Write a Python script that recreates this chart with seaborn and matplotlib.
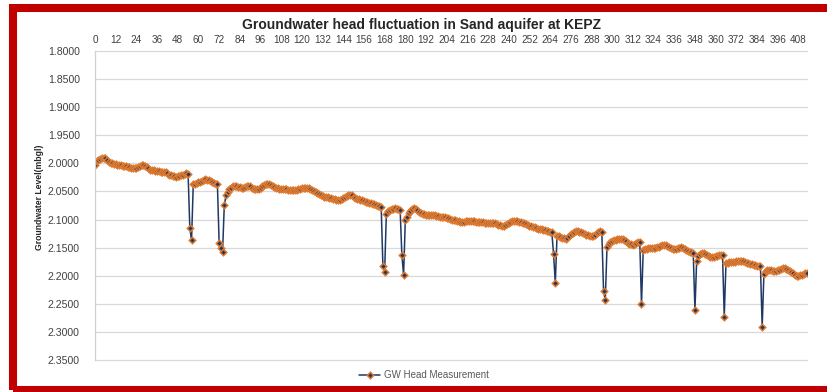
import matplotlib
matplotlib.use("Agg")
import matplotlib.pyplot as plt
import seaborn as sns
import pandas as pd
from matplotlib.patches import Rectangle

# Daily groundwater head readings (m below ground level)
head_mbgl = [
    2.003, 1.996, 1.994, 1.993, 1.991, 1.990, 1.991, 1.994, 1.997, 1.999,
    2.000, 2.001, 2.002, 2.003, 2.003, 2.003, 2.004, 2.004, 2.005, 2.006,
    2.007, 2.008, 2.009, 2.009, 2.008, 2.006, 2.004, 2.003, 2.003, 2.005,
    2.007, 2.009, 2.011, 2.012, 2.012, 2.013, 2.013, 2.014, 2.015, 2.015,
    2.015, 2.016, 2.018, 2.020, 2.021, 2.022, 2.023, 2.024, 2.023, 2.022,
    2.021, 2.020, 2.019, 2.018, 2.019, 2.115, 2.137, 2.037, 2.036, 2.035,
    2.034, 2.033, 2.031, 2.029, 2.028, 2.029, 2.030, 2.032, 2.034, 2.035,
    2.036, 2.037, 2.141, 2.150, 2.157, 2.074, 2.057, 2.051, 2.046, 2.043,
    2.041, 2.040, 2.041, 2.042, 2.042, 2.043, 2.043, 2.042, 2.041, 2.040,
    2.041, 2.043, 2.045, 2.046, 2.046, 2.045, 2.043, 2.041, 2.039, 2.037,
    2.036, 2.037, 2.039, 2.041, 2.042, 2.043, 2.044, 2.045, 2.046, 2.046,
    2.046, 2.046, 2.047, 2.047, 2.047, 2.048, 2.048, 2.047, 2.046, 2.045,
    2.044, 2.043, 2.043, 2.043, 2.044, 2.046, 2.048, 2.050, 2.051, 2.052,
    2.054, 2.056, 2.058, 2.059, 2.059, 2.060, 2.061, 2.062, 2.063, 2.064,
    2.065, 2.065, 2.065, 2.064, 2.062, 2.060, 2.058, 2.057, 2.056, 2.057,
    2.059, 2.061, 2.063, 2.064, 2.065, 2.066, 2.067, 2.068, 2.069, 2.070,
    2.071, 2.072, 2.073, 2.074, 2.075, 2.076, 2.077, 2.183, 2.193, 2.090,
    2.085, 2.083, 2.082, 2.081, 2.080, 2.081, 2.082, 2.083, 2.163, 2.199,
    2.101, 2.095, 2.089, 2.085, 2.081, 2.080, 2.081, 2.083, 2.086, 2.088,
    2.090, 2.091, 2.092, 2.092, 2.092, 2.092, 2.092, 2.092, 2.093, 2.094,
    2.095, 2.095, 2.095, 2.096, 2.097, 2.098, 2.099, 2.100, 2.100, 2.101,
    2.102, 2.103, 2.104, 2.104, 2.104, 2.103, 2.102, 2.102, 2.102, 2.102,
    2.103, 2.104, 2.105, 2.105, 2.105, 2.105, 2.106, 2.106, 2.106, 2.106,
    2.107, 2.107, 2.107, 2.108, 2.109, 2.110, 2.111, 2.111, 2.110, 2.108,
    2.106, 2.104, 2.103, 2.102, 2.102, 2.103, 2.104, 2.105, 2.106, 2.107,
    2.108, 2.110, 2.111, 2.112, 2.113, 2.114, 2.115, 2.116, 2.117, 2.117,
    2.118, 2.119, 2.120, 2.121, 2.122, 2.123, 2.162, 2.213, 2.129, 2.130,
    2.131, 2.132, 2.133, 2.134, 2.132, 2.129, 2.126, 2.124, 2.122, 2.121,
    2.121, 2.122, 2.123, 2.124, 2.125, 2.127, 2.128, 2.129, 2.130, 2.129,
    2.127, 2.124, 2.122, 2.121, 2.123, 2.228, 2.243, 2.148, 2.144, 2.140,
    2.138, 2.137, 2.136, 2.135, 2.134, 2.134, 2.135, 2.137, 2.139, 2.141,
    2.143, 2.144, 2.145, 2.144, 2.142, 2.140, 2.140, 2.251, 2.154, 2.153,
    2.152, 2.151, 2.151, 2.150, 2.150, 2.150, 2.149, 2.148, 2.147, 2.146,
    2.145, 2.146, 2.147, 2.149, 2.151, 2.153, 2.153, 2.152, 2.151, 2.150,
    2.149, 2.150, 2.152, 2.154, 2.156, 2.157, 2.158, 2.159, 2.261, 2.173,
    2.165, 2.162, 2.160, 2.160, 2.161, 2.163, 2.165, 2.166, 2.166, 2.166,
    2.165, 2.164, 2.163, 2.163, 2.163, 2.273, 2.178, 2.177, 2.176, 2.176,
    2.176, 2.175, 2.174, 2.173, 2.173, 2.173, 2.174, 2.175, 2.177, 2.178,
    2.179, 2.180, 2.181, 2.181, 2.182, 2.182, 2.183, 2.291, 2.197, 2.191,
    2.189, 2.189, 2.190, 2.191, 2.191, 2.191, 2.190, 2.189, 2.188, 2.187,
    2.187, 2.188, 2.190, 2.192, 2.194, 2.196, 2.198, 2.200, 2.200, 2.199,
    2.198, 2.197, 2.196, 2.195,
]
day = list(range(len(head_mbgl)))

x_ticks = list(range(0, 409, 12))
y_ticks = [1.80, 1.85, 1.90, 1.95, 2.00, 2.05, 2.10, 2.15, 2.20, 2.25, 2.30, 2.35]

title = "Groundwater head fluctuation in Sand aquifer at KEPZ"
y_label = "Groundwater Level(mbgl)"
series_name = "GW Head Measurement"

LINE = "#1F3864"
ORANGE = "#E07A2E"
RED = "#C00000"

sns.set_theme(style="white")
plt.rcParams["font.family"] = ["Liberation Sans", "DejaVu Sans"]

W, H = 827, 392
fig = plt.figure(figsize=(W / 100, H / 100), dpi=100)
fig.patch.set_facecolor("white")

ax = fig.add_axes([95 / W, 1 - 360 / H, (807 - 95) / W, (360 - 51) / H])

df = pd.DataFrame({"day": day, "head": head_mbgl})
sns.lineplot(
    data=df, x="day", y="head", ax=ax,
    color=LINE, linewidth=1.1,
    marker="D", markersize=3.3,
    markerfacecolor=LINE, markeredgecolor=ORANGE, markeredgewidth=1.1,
    label=series_name,
)

ax.set_xlim(0, len(head_mbgl) - 1)
ax.set_ylim(2.35, 1.80)
ax.set_yticks(y_ticks)
ax.set_yticklabels([f"{v:.4f}" for v in y_ticks], fontsize=7.6, color="#404040")
ax.xaxis.tick_top()
ax.set_xticks(x_ticks)
ax.set_xticklabels([str(t) for t in x_ticks], fontsize=7.2, color="#404040")
ax.tick_params(axis="x", length=0, pad=4)
ax.tick_params(axis="y", length=0, pad=11)
ax.set_xlabel("")
ax.set_ylabel("")

ax.grid(axis="y", color="#D9D9D9", linewidth=0.9)
ax.grid(axis="x", visible=False)
for g in ax.get_ygridlines():
    g.set_clip_on(False)
for side in ("top", "right", "bottom"):
    ax.spines[side].set_visible(False)
ax.spines["left"].set_color("#D0D0D0")
ax.spines["left"].set_linewidth(0.9)

fig.text(422 / W, 1 - 25 / H, title, ha="center", va="center",
         fontsize=10, fontweight="bold", color="#262626")
fig.text(40 / W, 1 - 197 / H, y_label, ha="center", va="center",
         rotation=90, fontsize=6.2, fontweight="bold", color="#262626")

handles, labels = ax.get_legend_handles_labels()
ax.get_legend().remove()
fig.legend(handles, labels, loc="center", bbox_to_anchor=(424 / W, 1 - 375 / H),
           frameon=False, fontsize=7, labelcolor="#595959",
           handlelength=2.2, handletextpad=0.4)

# red frame around the chart area
fig.patches.append(Rectangle((13 / W, 2 / H), 840 / W - 13 / W, (H - 8 - 2) / H,
                             transform=fig.transFigure, fill=False,
                             edgecolor=RED, linewidth=5.8, clip_on=False))

fig.savefig("out.png", dpi=100, facecolor="white")
